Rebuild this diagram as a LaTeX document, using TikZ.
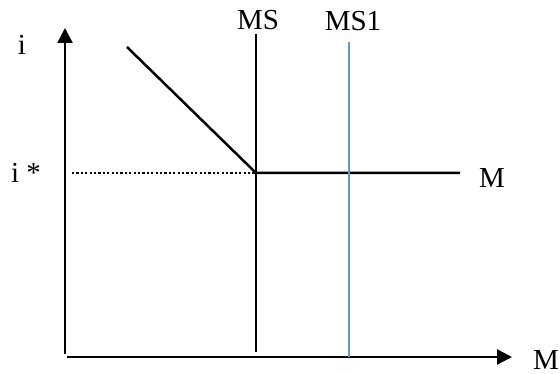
\documentclass[tikz,border=0pt]{standalone}
\usepackage{fontspec}
\setmainfont{Liberation Serif}
\usetikzlibrary{arrows.meta}
\definecolor{msblue}{HTML}{5B9BD5}
\tikzset{
  axis/.style={line width=2.5pt,-{Triangle[length=15pt,width=15pt]}},
  curve/.style={line width=2.5pt},
  lbl/.style={anchor=base,inner sep=0pt,font=\fontsize{29}{33}\selectfont},
  dots/.style={line width=2.5pt,dash pattern=on 2.2pt off 2.2pt}
}
\begin{document}
\begin{tikzpicture}[x=1pt,y=-1pt]
\useasboundingbox (0,0) rectangle (560,374);
% axes
\coordinate (ybot) at (65,354);
\coordinate (ytop) at (65,28);
\coordinate (xstart) at (67,357);
\coordinate (xend) at (512,357);
\draw[axis] (ybot) -- (ytop);
\draw[axis] (xstart) -- (xend);
% labels
\node[lbl] (li) at (22,55) {i};
\node[lbl] (listar) at (26,183) {i *};
\node[lbl] (lms) at (258,30) {MS};
\node[lbl] (lms1) at (353,31) {MS1};
\node[lbl] (lm) at (492,188) {M};
\node[lbl] (lmx) at (546,369) {M};
% money demand
\coordinate (dtop) at (127,47);
\coordinate (e) at (256,173);
\coordinate (mend) at (460,173);
\coordinate (dotstart) at (72,173);
\draw[curve] (dtop) -- (e) -- (mend);
\draw[dots] (dotstart) -- (e);
% MS
\coordinate (mstop) at (256,34);
\coordinate (msbot) at (256,352);
\draw[curve] (mstop) -- (msbot);
% MS1
\coordinate (ms1top) at (349,42);
\coordinate (ms1bot) at (349,357);
\draw[line width=2.5pt,msblue] (ms1top) -- (ms1bot);
\end{tikzpicture}
\end{document}
